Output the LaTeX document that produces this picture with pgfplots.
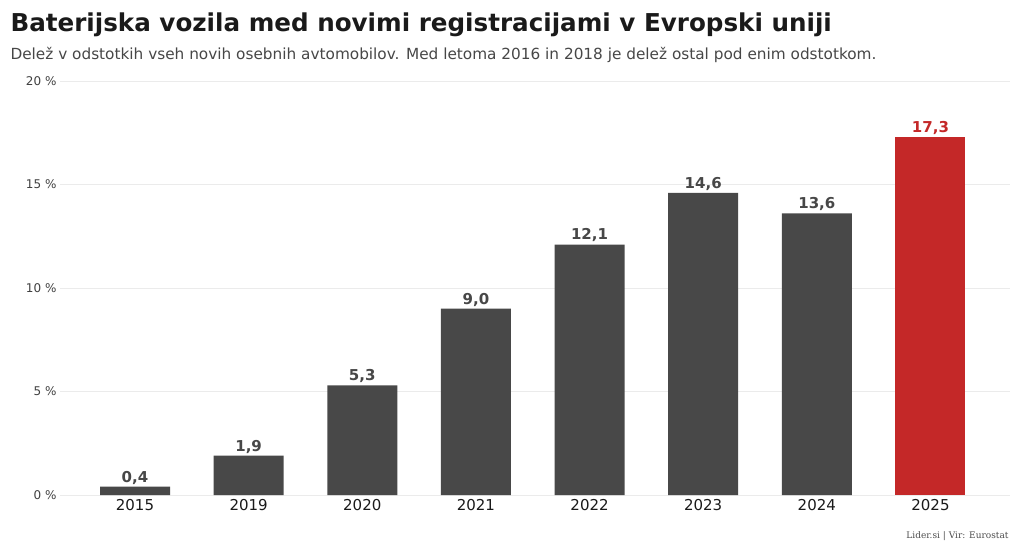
\documentclass[border=0pt]{standalone}
\usepackage{pgfplots}
\pgfplotsset{compat=1.18}
\usepackage{fontspec}
\setmainfont{DejaVu Sans}
\newfontfamily\serif{DejaVu Serif}
\definecolor{bar}{HTML}{484848}
\definecolor{red}{HTML}{C42828}
\definecolor{txt}{HTML}{1A1A1A}
\begin{document}
\begin{tikzpicture}[x=1pt,y=1pt]
\path[use as bounding box] (0,0) rectangle (1024,551);
\node[anchor=west,font=\fontsize{24.6}{28}\selectfont\bfseries,text=txt] at (7,526) {Baterijska vozila med novimi registracijami v Evropski uniji};
\node[anchor=west,font=\fontsize{15.3}{18}\selectfont,text=black!72] at (7,496) {Delež v odstotkih vseh novih osebnih avtomobilov. Med letoma 2016 in 2018 je delež ostal pod enim odstotkom.};
\node[anchor=east,font=\fontsize{9}{11}\selectfont\serif,text=black!70] at (1012,15) {Lider.si | Vir: Eurostat};
\begin{axis}[at={(60pt,56pt)},anchor=south west,scale only axis,width=950pt,height=414pt,
 xmin=-0.66,xmax=7.7,ymin=0,ymax=20,
 axis line style={draw=none},tick style={draw=none},
 ymajorgrids,grid style={black!8},
 ytick={0,5,10,15,20},yticklabels={0~\%,5~\%,10~\%,15~\%,20~\%},
 yticklabel style={font=\fontsize{12}{14}\selectfont,text=black!75},
 xtick={0,...,7},xticklabels={2015,2019,2020,2021,2022,2023,2024,2025},
 xticklabel style={font=\fontsize{15}{17}\selectfont,text=txt,yshift=3pt},
 ybar,bar width=70pt,bar shift=0pt,
 nodes near coords,
 /pgf/number format/.cd,use comma,fixed,fixed zerofill,precision=1,assume math mode=true,/pgfplots/.cd,
 every node near coord/.append style={font=\fontsize{15}{17}\selectfont\bfseries,text=black!72,yshift=-1pt},
 clip=false]
\addplot[fill=bar,draw=none] coordinates {(0,0.4)(1,1.9)(2,5.3)(3,9.0)(4,12.1)(5,14.6)(6,13.6)};
\addplot[fill=red,draw=none,every node near coord/.append style={text=red}] coordinates {(7,17.3)};
\end{axis}
\end{tikzpicture}
\end{document}
